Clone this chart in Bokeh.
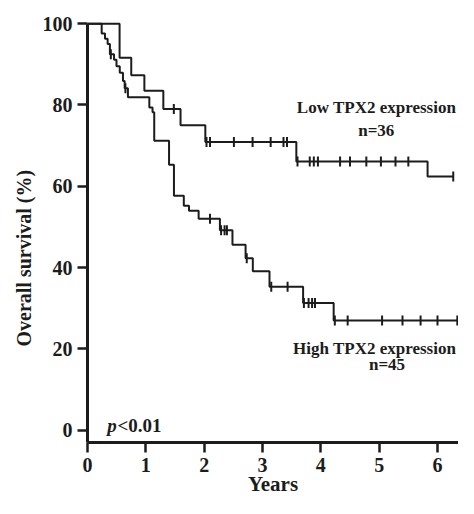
import numpy as np
from bokeh.plotting import figure
from bokeh.models import Range1d, FixedTicker, Title
from bokeh.core.properties import value
from bokeh.embed import file_html
from bokeh.resources import INLINE

# ---- data (Kaplan-Meier, overall survival %) ----
# Low TPX2 expression, n=36
low_event_t = [0.55, 0.75, 0.975, 1.30, 1.595, 2.02, 3.58, 5.83]
low_event_s = [91.6, 87.3, 83.5, 79.0, 75.0, 70.9, 66.1, 62.4]
low_censor_t = [1.48, 2.04, 2.10, 2.51, 2.83, 3.14, 3.36, 3.42, 3.60, 3.81,
                3.88, 3.95, 4.33, 4.50, 4.78, 5.03, 5.28, 5.50, 6.27]
low_end = 6.28

# High TPX2 expression, n=45
high_event_t = [0.243, 0.30, 0.345, 0.384, 0.455, 0.497, 0.553, 0.608, 0.637,
                0.693, 1.06, 1.115, 1.144, 1.398, 1.482, 1.651, 1.74, 1.905,
                2.27, 2.485, 2.71, 2.834, 3.12, 3.696, 4.22]
high_event_s = [97.6, 96.3, 95.0, 92.5, 91.1, 89.5, 87.9, 85.9, 84.1,
                81.9, 79.4, 78.2, 71.2, 65.3, 57.7, 55.2, 54.0, 52.0,
                49.2, 45.6, 42.3, 39.1, 35.3, 31.3, 27.0]
high_censor_t = [0.40, 0.65, 2.10, 2.29, 2.35, 2.39, 2.73, 3.15, 3.43, 3.71,
                 3.79, 3.85, 3.90, 4.24, 4.46, 5.05, 5.40, 5.71, 6.00, 6.34]
high_end = 6.6

x_ticks = [0, 1, 2, 3, 4, 5, 6]
y_ticks = [0, 20, 40, 60, 80, 100]

low_label = ["Low TPX2 expression", "n=36"]
high_label = ["High TPX2 expression", "n=45"]
p_label = ["p", "<0.01"]
x_title = "Years"
y_title = "Overall survival (%)"

INK = "#1c1c1c"
SERIF = "Liberation Serif"


def step_xy(times, levels, end):
    xs = [0.0] + list(times) + [end]
    ys = [100.0] + list(levels) + [levels[-1]]
    return xs, ys


def level_at(times, levels, t):
    idx = np.searchsorted(np.asarray(times), np.asarray(t), side="right")
    lv = np.concatenate([[100.0], levels])
    return lv[idx]


p = figure(width=458, height=498, output_backend="svg", toolbar_location=None,
           x_range=Range1d(0, 6.36), y_range=Range1d(-3.0, 102.0),
           min_border_left=87, min_border_right=0, min_border_top=15,
           min_border_bottom=56)
p.outline_line_color = None
p.grid.visible = False
p.background_fill_color = "white"
p.border_fill_color = "white"

for times, levels, end, ct in [(low_event_t, low_event_s, low_end, low_censor_t),
                               (high_event_t, high_event_s, high_end, high_censor_t)]:
    xs, ys = step_xy(times, levels, end)
    p.step(xs, ys, mode="after", line_color=INK, line_width=2)
    cy = level_at(times, levels, ct)
    p.scatter(ct, cy, marker="dash", angle=np.pi / 2, size=10,
              line_color=INK, line_width=2)

# annotations
common = dict(text_font=value(SERIF), text_font_style="bold", text_color=INK,
              text_font_size="17px", text_baseline="middle")
p.text(x=[6.32], y=[79.45], text=[low_label[0]], text_align="right", **common)
p.text(x=[4.95], y=[73.6], text=[low_label[1]], text_align="center", **common)
p.text(x=[6.32], y=[20.0], text=[high_label[0]], text_align="right", **common)
p.text(x=[5.135], y=[16.2], text=[high_label[1]], text_align="center", **common)
p.text(x=[0.338], y=[1.2], text=[p_label[0]], text_align="left",
       text_font=value(SERIF), text_font_style="bold italic", text_color=INK,
       text_font_size="19px", text_baseline="middle")
p.text(x=[0.515], y=[1.2], text=[p_label[1]], text_align="left",
       text_font=value(SERIF), text_font_style="bold", text_color=INK,
       text_font_size="19px", text_baseline="middle")

# y-axis title as a side title, anchored from the bottom like the reference
p.add_layout(Title(text=y_title, align="left", offset=96,
                   text_font=SERIF, text_font_style="bold",
                   text_font_size="20px", text_color=INK), "left")

# axes
xa = p.xaxis[0]
ya = p.yaxis[0]
xa.ticker = FixedTicker(ticks=x_ticks)
ya.ticker = FixedTicker(ticks=y_ticks)
xa.bounds = (0, 7)
ya.bounds = (-3.0, 100)
for ax in (xa, ya):
    ax.axis_line_width = 3
    ax.axis_line_color = INK
    ax.major_tick_line_width = 2.5
    ax.major_tick_line_color = INK
    ax.major_tick_in = 0
    ax.major_tick_out = 10
    ax.minor_tick_line_color = None
    ax.major_label_text_font = SERIF
    ax.major_label_text_font_style = "bold"
    ax.major_label_text_font_size = "20px"
    ax.major_label_text_color = INK
    ax.axis_label_text_font = SERIF
    ax.axis_label_text_font_style = "bold"
    ax.axis_label_text_font_size = "21px"
    ax.axis_label_text_color = INK
xa.axis_label = x_title
xa.major_label_standoff = 5
ya.major_label_standoff = 5
xa.axis_label_standoff = -3

open("out.html", "w").write(file_html(p, INLINE))
